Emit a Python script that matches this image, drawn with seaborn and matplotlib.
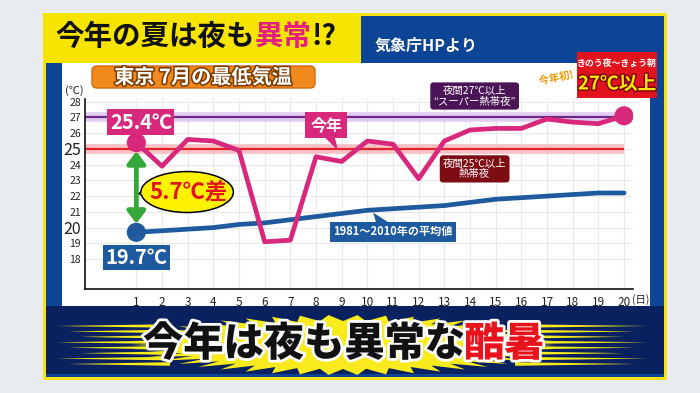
import numpy as np
import pandas as pd
import matplotlib
matplotlib.use("Agg")
import matplotlib.pyplot as plt
import seaborn as sns
from matplotlib.patches import Rectangle, FancyBboxPatch, Ellipse, Polygon
import matplotlib.patheffects as pe

# ---------------- data ----------------
days = list(range(1, 21))
this_year = [25.4, 23.9, 25.6, 25.5, 24.9, 19.1, 19.2, 24.5, 24.2, 25.5,
             25.3, 23.1, 25.5, 26.2, 26.3, 26.3, 26.9, 26.7, 26.6, 27.1]
normal = [19.7, 19.8, 19.9, 20.0, 20.2, 20.3, 20.5, 20.7, 20.9, 21.1,
          21.2, 21.3, 21.4, 21.6, 21.8, 21.9, 22.0, 22.1, 22.2, 22.2]
y_ticks = list(range(18, 29))
big_y_labels = [25, 20]
super_night = 27
tropical_night = 25

sns.set_theme(style="white")
plt.rcParams["font.family"] = ["Noto Sans CJK JP", "DejaVu Sans"]

W, H = 700, 393
fig = plt.figure(figsize=(7, 3.93), dpi=100)
fig.patch.set_facecolor("#e8ecf1")

bg = fig.add_axes([0, 0, 1, 1], zorder=0)
bg.set_xlim(0, W)
bg.set_ylim(H, 0)
bg.axis("off")
renderer = fig.canvas.get_renderer()


def run_text(x0, y, parts, **kw):
    """Draw consecutive coloured text segments starting at pixel x0."""
    x = x0
    for s, c in parts:
        t = bg.text(x, y, s, color=c, ha="left", va="center", **kw)
        bb = t.get_window_extent(renderer=renderer)
        x += bb.width * W / fig.bbox.width


# frame
bg.add_patch(Rectangle((43, 13), 624, 367, fc="#f5e31a", ec="none"))
bg.add_patch(Rectangle((46, 16), 618, 361, fc="#0c4496", ec="none"))
bg.add_patch(Rectangle((46, 306), 618, 68, fc="#0a215f", ec="none"))
bg.add_patch(Rectangle((62, 63), 588, 243, fc="white", ec="none"))
bg.add_patch(Rectangle((43, 13), 318, 50, fc="#f7e400", ec="none"))

# title
run_text(55, 37, [("今年の夏は夜も", "#111111"), ("異常", "#e3207f"), ("!?", "#111111")],
         fontsize=20.5, fontweight="bold")
bg.text(375, 46, "気象庁HPより", color="white", fontsize=11.5,
        fontweight="bold", va="center", ha="left")

# top-right badge
bg.add_patch(Rectangle((577, 52), 80, 46, fc="#e1131d", ec="none"))
bg.text(617, 63, "きのう夜～きょう朝", color="white", fontsize=6.4,
        fontweight="bold", ha="center", va="center")
bg.text(617, 84, "27℃以上", color="#ffe600", fontsize=13.5, fontweight="bold",
        ha="center", va="center",
        path_effects=[pe.withStroke(linewidth=2, foreground="#7a0008")])
bg.text(556, 78, "今年初!", color="#f39800", fontsize=7.5, fontweight="bold",
        ha="center", va="center", rotation=12,
        path_effects=[pe.withStroke(linewidth=2, foreground="white")])

# orange chart title
bg.add_patch(FancyBboxPatch((92, 66), 223, 22, boxstyle="round,pad=0,rounding_size=5",
                            fc="#f08a1c", ec="#d0680e", lw=1))
bg.text(203, 77, "東京 7月の最低気温", color="white", fontsize=14.5,
        fontweight="bold", ha="center", va="center",
        path_effects=[pe.withStroke(linewidth=2.2, foreground="#7a3a00")])
bg.text(74, 91, "(℃)", fontsize=8, ha="center", va="center", color="#222")
bg.text(641, 300, "(日)", fontsize=7.5, ha="center", va="center", color="#222")

# bottom starburst
cx, cy, a, b = 343, 345, 212, 30
t = np.linspace(0, 2 * np.pi, 92, endpoint=False)
r = np.where(np.arange(t.size) % 2 == 0, 1.0, 0.8)
bg.add_patch(Polygon(np.column_stack([cx + a * r * np.cos(t), cy + b * r * np.sin(t)]),
                     closed=True, fc="#f8ea1c", ec="none"))
for i, yy in enumerate(np.linspace(326, 364, 8)):
    tipL = 56 + (i % 3) * 12
    bg.add_patch(Polygon([(170, yy - 1.8), (170, yy + 1.8), (tipL, yy)],
                         fc="#f8ea1c", ec="none"))
    tipR = 648 - (i % 3) * 12
    bg.add_patch(Polygon([(515, yy - 1.8), (515, yy + 1.8), (tipR, yy)],
                         fc="#f8ea1c", ec="none"))
bkw = dict(fontsize=29, fontweight="heavy", va="center", ha="left",
           path_effects=[pe.withStroke(linewidth=4, foreground="white")])
bg.text(143, 344, "今年は夜も異常な", color="#111111", **bkw)
bg.text(464, 344, "酷暑", color="#e8141c", **bkw)

# ---------------- chart ----------------
ax = fig.add_axes([85 / W, 1 - 289 / H, 548 / W, (289 - 99.3) / H], zorder=2)
ax.patch.set_alpha(0)
xlo, xhi = -1.0, 20.35
ax.set_xlim(xlo, xhi)
ax.set_ylim(16.1, 28.15)

ax.hlines(super_night, xlo, days[-1], color="#dcc2ee", lw=7, alpha=0.8, zorder=1)
ax.hlines(super_night, xlo, days[-1], color="#6e2a86", lw=1.6, zorder=1.1)
ax.hlines(tropical_night, xlo, days[-1], color="#f8b4b8", lw=7, alpha=0.8, zorder=1)
ax.hlines(tropical_night, xlo, days[-1], color="#e3222c", lw=1.6, zorder=1.1)

df = pd.DataFrame({"day": days, "this_year": this_year, "normal": normal})
sns.lineplot(data=df, x="day", y="normal", color="#1f5a9f", lw=3.4, ax=ax, zorder=3)
sns.lineplot(data=df, x="day", y="this_year", color="#d8287c", lw=3.4, ax=ax, zorder=4)
sns.scatterplot(x=[days[0], days[-1]], y=[this_year[0], this_year[-1]], s=190,
                color="#d8287c", edgecolor="none", ax=ax, zorder=5)
sns.scatterplot(x=[days[0]], y=[normal[0]], s=190, color="#1f5a9f",
                edgecolor="none", ax=ax, zorder=5)

ax.set_xlabel("")
ax.set_ylabel("")
ax.set_xticks(days)
ax.set_xticklabels([str(d) for d in days], fontsize=8.5)
ax.set_yticks(y_ticks)
ax.set_yticklabels([str(v) for v in y_ticks], fontsize=7.5)
for lab, v in zip(ax.get_yticklabels(), y_ticks):
    if v in big_y_labels:
        lab.set_fontsize(11.5)
ax.tick_params(axis="both", direction="in", length=5, width=1.1, colors="#111",
               labelcolor="#222")
ax.tick_params(axis="y", pad=3)
ax.tick_params(axis="x", pad=5)
ax.grid(True, color="#e7e7ee", lw=0.8)
for s in ["top", "right"]:
    ax.spines[s].set_visible(False)
for s in ["left", "bottom"]:
    ax.spines[s].set_color("#111")
    ax.spines[s].set_linewidth(1.2)

# green difference arrow
ax.annotate("", xy=(days[0], normal[0] + 0.55), xytext=(days[0], this_year[0] - 0.55),
            arrowprops=dict(arrowstyle="<|-|>,head_length=0.6,head_width=0.45",
                            color="#36a83a", lw=3.5, shrinkA=0, shrinkB=0), zorder=5)

# value labels
ax.text(1.18, 26.7, f"{this_year[0]}℃", color="white", fontsize=14.5, fontweight="bold",
        ha="center", va="center", zorder=6, clip_on=False,
        bbox=dict(boxstyle="square,pad=0.12", fc="#d8287c", ec="none"))
ax.text(1.0, 18.1, f"{normal[0]}℃", color="white", fontsize=14.5, fontweight="bold",
        ha="center", va="center", zorder=6, clip_on=False,
        bbox=dict(boxstyle="square,pad=0.12", fc="#1d5aa0", ec="none"))

diff = round(this_year[0] - normal[0], 1)
ax.add_patch(Polygon([(1.4, 22.55), (1.4, 21.95), (1.1, 22.15)], closed=True,
                     fc="#fff200", ec="black", lw=1.1, zorder=6))
ax.add_patch(Ellipse((2.98, 22.26), 3.6, 2.6, fc="#fff200", ec="black", lw=1.1, zorder=6))
ax.add_patch(Polygon([(1.45, 22.52), (1.45, 21.98), (1.16, 22.15)], closed=True,
                     fc="#fff200", ec="none", zorder=6.1))
ax.text(3.05, 22.26, f"{diff}℃差", color="#e0141e", fontsize=16, fontweight="bold",
        ha="center", va="center", zorder=7)

# 今年 label
ax.add_patch(Polygon([(8.2, 25.95), (8.7, 25.95), (8.86, 24.9)], closed=True,
                     fc="#d8287c", ec="none", zorder=6, clip_on=False))
ax.text(8.4, 26.52, "今年", color="white", fontsize=11.5, fontweight="bold",
        ha="center", va="center", zorder=6,
        bbox=dict(boxstyle="square,pad=0.3", fc="#d8287c", ec="none"))

# threshold labels
ax.text(14.18, 28.36, "夜間27℃以上\n“スーパー熱帯夜”", color="white", fontsize=7.5,
        ha="center", va="center", linespacing=1.1, zorder=6, clip_on=False,
        bbox=dict(boxstyle="round,pad=0.3,rounding_size=0.3", fc="#4b1457", ec="none"))
ax.text(14.18, 23.73, "夜間25℃以上\n熱帯夜", color="white", fontsize=7.5,
        ha="center", va="center", linespacing=1.1, zorder=6,
        bbox=dict(boxstyle="round,pad=0.3,rounding_size=0.3", fc="#7d0c14", ec="none"))

# normal label
ax.add_patch(Polygon([(10.36, 20.2), (10.95, 20.2), (10.23, 20.95)], closed=True,
                     fc="#1d5aa0", ec="none", zorder=6))
ax.text(11.0, 19.73, "1981～2010年の平均値", color="white", fontsize=8, fontweight="bold",
        ha="center", va="center", zorder=6,
        bbox=dict(boxstyle="square,pad=0.3", fc="#1d5aa0", ec="none"))

fig.savefig("out.png", dpi=100, facecolor=fig.get_facecolor())
